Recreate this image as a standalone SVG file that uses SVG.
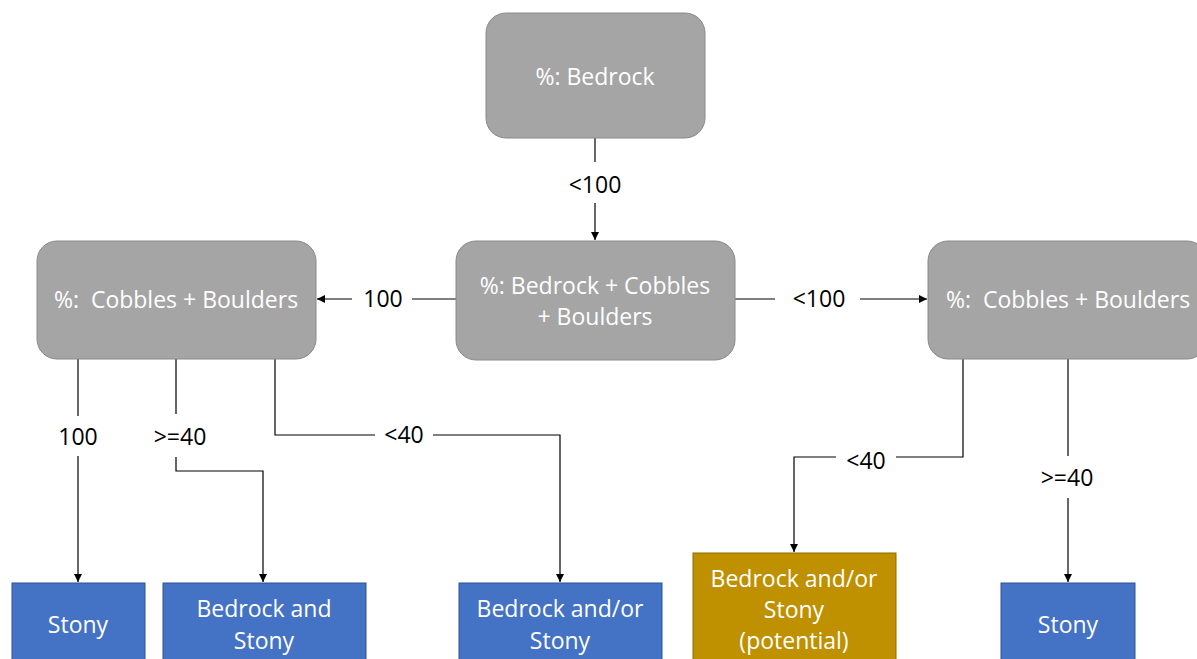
<svg xmlns="http://www.w3.org/2000/svg" width="1197" height="659" viewBox="0 0 1197 659">
<style>
text{font-family:"Open Sans","Liberation Sans",sans-serif;font-size:23px;text-anchor:middle;white-space:pre}
.w{fill:#ffffff}
.l{fill:#000000}
.g{fill:#a5a5a5;stroke:#8a8a8a;stroke-width:1}
.b{fill:#4472c4;stroke:#2f528f;stroke-width:1}
.y{fill:#bf9000;stroke:#8f6b00;stroke-width:1}
.c{fill:none;stroke:#000;stroke-width:1.2}
</style>
<defs>
<marker id="ah" markerWidth="8" markerHeight="8" refX="8" refY="4" orient="auto" markerUnits="userSpaceOnUse">
<path d="M0,0 L8,4 L0,8 Z" fill="#000"/>
</marker>
</defs>
<rect width="1197" height="659" fill="#ffffff"/>
<g id="connectors">
<path class="c" d="M595,138 V162"/>
<path class="c" d="M595,203 V240" marker-end="url(#ah)"/>
<text class="l" x="595" y="193">&lt;100</text>
<path class="c" d="M456,299 H412"/>
<path class="c" d="M352,299 H317" marker-end="url(#ah)"/>
<text class="l" x="383" y="307">100</text>
<path class="c" d="M735,299 H775"/>
<path class="c" d="M860,299 H927" marker-end="url(#ah)"/>
<text class="l" x="819" y="307">&lt;100</text>
<path class="c" d="M78,359 V416"/>
<path class="c" d="M78,456 V582" marker-end="url(#ah)"/>
<text class="l" x="78" y="445">100</text>
<path class="c" d="M176,359 V414"/>
<path class="c" d="M176,457 V471 H263 V582" marker-end="url(#ah)"/>
<text class="l" x="180" y="445">&gt;=40</text>
<path class="c" d="M275,359 V435 H375"/>
<path class="c" d="M433,435 H560 V582" marker-end="url(#ah)"/>
<text class="l" x="404" y="443">&lt;40</text>
<path class="c" d="M963,359 V457 H896"/>
<path class="c" d="M836,457 H794 V552" marker-end="url(#ah)"/>
<text class="l" x="866" y="469">&lt;40</text>
<path class="c" d="M1068,359 V456"/>
<path class="c" d="M1068,498 V582" marker-end="url(#ah)"/>
<text class="l" x="1067" y="486">&gt;=40</text>
</g>
<g id="n-bedrock">
<rect class="g" x="486" y="13" width="219" height="125" rx="20"/>
<text class="w" x="595" y="85">%: Bedrock</text>
</g>
<g id="n-bcb">
<rect class="g" x="456" y="241" width="279" height="119" rx="20"/>
<text class="w" x="595" y="294">%: Bedrock + Cobbles</text>
<text class="w" x="595" y="325">+ Boulders</text>
</g>
<g id="n-cb-left">
<rect class="g" x="37" y="241" width="279" height="118" rx="20"/>
<text class="w" x="176" y="308">%:  Cobbles + Boulders</text>
</g>
<g id="n-cb-right">
<rect class="g" x="928" y="241" width="279" height="118" rx="20"/>
<text class="w" x="1068" y="308">%:  Cobbles + Boulders</text>
</g>
<g id="n-stony-left">
<rect class="b" x="12" y="583" width="133" height="90"/>
<text class="w" x="78" y="633">Stony</text>
</g>
<g id="n-bedrock-stony">
<rect class="b" x="163" y="583" width="203" height="90"/>
<text class="w" x="264" y="617">Bedrock and</text>
<text class="w" x="264" y="649">Stony</text>
</g>
<g id="n-bedrock-or-stony">
<rect class="b" x="459" y="583" width="203" height="90"/>
<text class="w" x="560" y="617">Bedrock and/or</text>
<text class="w" x="560" y="649">Stony</text>
</g>
<g id="n-potential">
<rect class="y" x="693" y="553" width="203" height="120"/>
<text class="w" x="794" y="587">Bedrock and/or</text>
<text class="w" x="794" y="618">Stony</text>
<text class="w" x="794" y="649">(potential)</text>
</g>
<g id="n-stony-right">
<rect class="b" x="1001" y="583" width="134" height="90"/>
<text class="w" x="1068" y="633">Stony</text>
</g>
</svg>
